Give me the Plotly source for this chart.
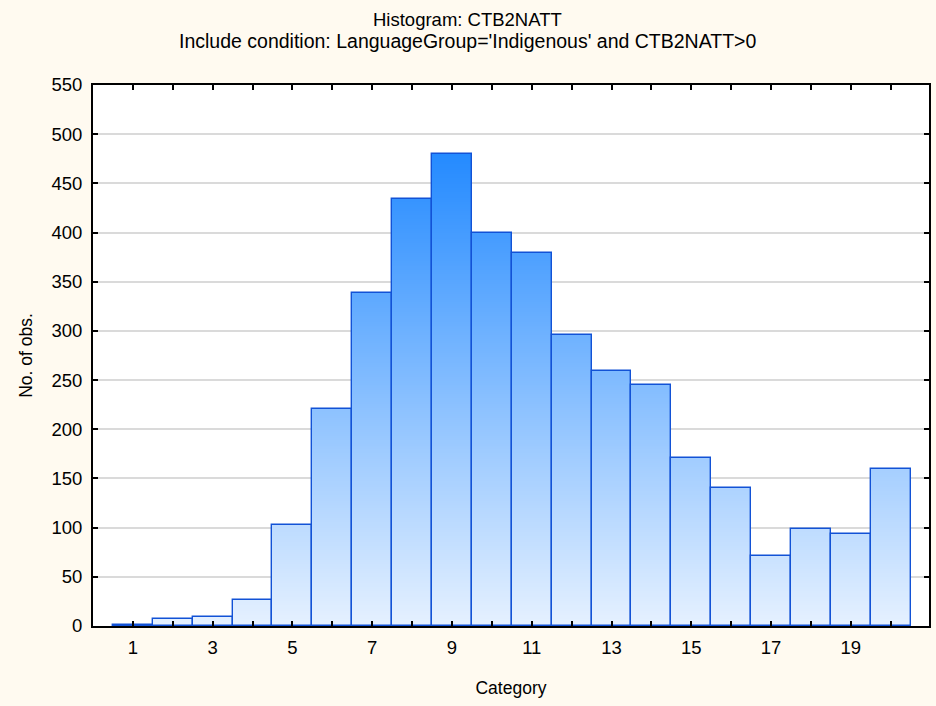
import plotly.graph_objects as go

# ---- data ----
categories = list(range(1, 21))
counts = [1, 7, 9, 26, 103, 221, 339, 434, 480, 400, 379, 296, 259, 245, 171, 140, 71, 99, 94, 160]
y_tick_values = list(range(0, 551, 50))
x_tick_labels = [str(c) if c % 2 == 1 else "" for c in categories]

title_text = "Histogram: CTB2NATT"
subtitle_text = "Include condition: LanguageGroup='Indigenous' and CTB2NATT>0"
x_title = "Category"
y_title = "No. of obs."

FONT = "Liberation Sans, Arial, sans-serif"

# gradient colours (value 0 -> light, value 500 -> saturated blue)
c_low = (230, 241, 255)
c_high = (28, 134, 255)
grad_max = 500.0


def grad_color(v):
    t = max(0.0, min(1.0, v / grad_max))
    r = round(c_low[0] + (c_high[0] - c_low[0]) * t)
    g = round(c_low[1] + (c_high[1] - c_low[1]) * t)
    b = round(c_low[2] + (c_high[2] - c_low[2]) * t)
    return f"rgb({r},{g},{b})"


# build gradient slices of each bar (stacked from the data values)
step = 2
seg_x, seg_base, seg_h, seg_col = [], [], [], []
for c, v in zip(categories, counts):
    b = 0
    while b < v:
        top = min(b + step, v)
        seg_x.append(c)
        seg_base.append(b)
        seg_h.append(top - b)
        seg_col.append(grad_color((b + top) / 2))
        b = top

fig = go.Figure()
fig.add_trace(go.Bar(
    x=seg_x, y=seg_h, base=seg_base, width=1,
    marker=dict(color=seg_col, line=dict(width=0)),
    hoverinfo="skip", showlegend=False,
))
fig.add_trace(go.Bar(
    x=categories, y=counts, width=1,
    marker=dict(color="rgba(0,0,0,0)", line=dict(color="rgb(18,82,214)", width=1.4)),
    showlegend=False,
))

fig.update_layout(
    width=936, height=706,
    margin=dict(l=93, r=5, t=85, b=80),
    paper_bgcolor="#FFFAF0",
    plot_bgcolor="white",
    barmode="overlay",
    bargap=0,
    font=dict(family=FONT, size=18, color="black"),
    annotations=[
        dict(text=title_text, xref="paper", yref="paper", x=(468 - 93) / 838, y=(626 - 19) / 541,
             xanchor="center", yanchor="middle", showarrow=False, font=dict(size=18.5)),
        dict(text=subtitle_text, xref="paper", yref="paper", x=(468 - 93) / 838, y=(626 - 41) / 541,
             xanchor="center", yanchor="middle", showarrow=False, font=dict(size=19.5)),
    ],
)

fig.update_xaxes(
    range=[0, 20.96],
    tickmode="array", tickvals=categories, ticktext=x_tick_labels,
    ticks="inside", ticklen=5, tickwidth=1.5, tickcolor="black",
    showline=True, linecolor="black", linewidth=2, mirror="allticks",
    showgrid=False, zeroline=False,
    ticklabelstandoff=4,
    title=dict(text=x_title, font=dict(size=17.5), standoff=25),
    tickfont=dict(size=18.5),
)
fig.update_yaxes(
    range=[0, 550],
    tickmode="array", tickvals=y_tick_values,
    ticks="inside", ticklen=5, tickwidth=1.5, tickcolor="black",
    showline=True, linecolor="black", linewidth=2, mirror="allticks",
    showgrid=True, gridcolor="#DADADA", gridwidth=1.5,
    zeroline=False,
    ticklabelstandoff=5,
    title=dict(text=y_title, font=dict(size=17.5), standoff=14),
    tickfont=dict(size=18.5),
)

fig.write_html("out.html", config={"displayModeBar": False},
               post_script="document.body.style.margin='0';")
